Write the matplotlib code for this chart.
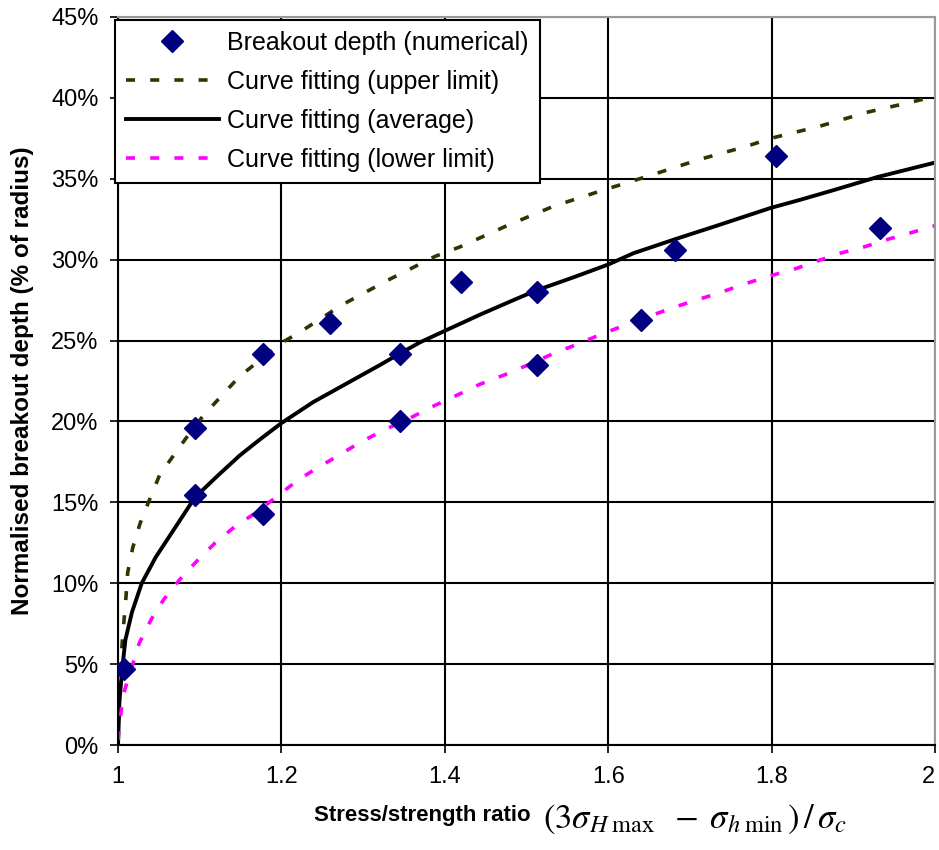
import numpy as np
import matplotlib.pyplot as plt
from matplotlib.ticker import PercentFormatter

plt.rcParams['font.family'] = ['Liberation Sans', 'DejaVu Sans']
plt.rcParams['mathtext.fontset'] = 'stix'

# numerical breakout depth (stress ratio, % of radius)
pts_x = [1.007, 1.094, 1.094, 1.177, 1.177, 1.259, 1.345, 1.345, 1.420,
         1.513, 1.513, 1.640, 1.682, 1.805, 1.933]
pts_y = [4.7, 19.6, 15.45, 24.2, 14.3, 26.1, 24.2, 20.0, 28.6,
         28.0, 23.5, 26.3, 30.6, 36.4, 31.95]

# upper limit curve
up_x = [1.0, 1.0016, 1.0049, 1.0073, 1.0098, 1.0118, 1.018, 1.027, 1.038, 1.051,
        1.068, 1.088, 1.105, 1.127, 1.149, 1.174, 1.198, 1.222, 1.274, 1.329,
        1.388, 1.419, 1.476, 1.533, 1.594, 1.651, 1.712, 1.769, 1.799, 1.859,
        1.916, 1.976, 2.0]
up_y = [0.0, 3.2, 6.2, 7.7, 9.2, 10.65, 12.2, 13.7, 15.1, 16.7,
        17.9, 19.3, 20.4, 21.6, 22.8, 23.8, 24.8, 25.5, 27.2, 28.7,
        30.2, 30.8, 32.1, 33.3, 34.3, 35.2, 36.2, 37.0, 37.5, 38.25,
        39.1, 39.8, 40.1]

# average curve
avg_x = [1.0, 1.0016, 1.0049, 1.009, 1.017, 1.029, 1.046, 1.072, 1.094, 1.121,
         1.149, 1.174, 1.200, 1.239, 1.280, 1.321, 1.345, 1.370, 1.400, 1.443,
         1.484, 1.512, 1.557, 1.600, 1.631, 1.684, 1.733, 1.799, 1.835, 1.876,
         1.929, 2.0]
avg_y = [0.0, 2.6, 4.6, 6.5, 8.2, 10.0, 11.6, 13.6, 15.3, 16.6,
         17.9, 18.9, 19.9, 21.2, 22.35, 23.5, 24.2, 24.9, 25.6, 26.6,
         27.5, 28.1, 28.9, 29.7, 30.4, 31.3, 32.1, 33.2, 33.7, 34.3,
         35.1, 36.0]

# lower limit curve
low_x = [1.0, 1.0028, 1.0069, 1.026, 1.041, 1.056, 1.075, 1.097, 1.119, 1.143,
         1.170, 1.194, 1.221, 1.243, 1.270, 1.296, 1.327, 1.359, 1.384, 1.414,
         1.443, 1.474, 1.502, 1.533, 1.561, 1.592, 1.623, 1.680, 1.708, 1.739,
         1.767, 1.798, 1.827, 1.855, 1.884, 1.914, 1.945, 1.973, 2.0]
low_y = [0.3, 1.75, 3.2, 6.3, 7.8, 9.0, 10.2, 11.4, 12.5, 13.5,
         14.4, 15.35, 16.4, 17.1, 17.9, 18.7, 19.5, 20.25, 20.9, 21.6,
         22.3, 22.9, 23.5, 24.2, 24.75, 25.4, 26.0, 27.05, 27.5, 28.0,
         28.5, 29.0, 29.4, 29.9, 30.4, 30.8, 31.3, 31.7, 32.1]

fig = plt.figure(figsize=(9.39, 8.5), dpi=100)
ax = fig.add_axes([0.1257, 0.1235, 0.87, 0.8565])

ax.plot(pts_x, pts_y, 'D', color='#000080', markersize=11.5, ls='none',
        label='Breakout depth (numerical)', zorder=5)
ax.plot(up_x, up_y, color='#333300', lw=2.6, ls=(0, (2.5, 4.2)),
        label='Curve fitting (upper limit)')
ax.plot(avg_x, avg_y, color='black', lw=2.8, label='Curve fitting (average)')
ax.plot(low_x, low_y, color='#FF00FF', lw=2.6, ls=(0, (2.5, 4.2)),
        label='Curve fitting (lower limit)')

ax.set_xlim(1, 2)
ax.set_ylim(0, 45)
ax.set_xticks(np.arange(1, 2.01, 0.2))
ax.set_xticklabels(['1', '1.2', '1.4', '1.6', '1.8', '2'])
ax.get_xticklabels()[-1].set_ha('right')
ax.set_yticks(np.arange(0, 46, 5))
ax.yaxis.set_major_formatter(PercentFormatter(decimals=0))
ax.grid(True, color='black', lw=1.5)
ax.tick_params(direction='out', length=6, width=1.2, labelsize=17)
ax.tick_params(axis='y', pad=8)
ax.tick_params(axis='x', pad=9)
for s in ['left', 'bottom']:
    ax.spines[s].set_color('black')
    ax.spines[s].set_linewidth(1.5)
for s in ['top', 'right']:
    ax.spines[s].set_color('#999999')
    ax.spines[s].set_linewidth(1.5)

ax.set_ylabel('Normalised breakout depth (% of radius)', fontsize=17.5,
              fontweight='bold')
ax.yaxis.set_label_coords(-0.103, 0.5)
fig.text(0.565, 0.041, 'Stress/strength ratio', fontsize=16, fontweight='bold',
         ha='right', va='center')
fig.text(0.578, 0.036,
         r'$(3\sigma_{H\;\mathrm{max}}\;\;-\;\sigma_{h\;\mathrm{min}}\,)\,/\,\sigma_c$',
         fontsize=25, ha='left', va='center')

leg = ax.legend(loc='upper left', bbox_to_anchor=(-0.004, 0.996), borderaxespad=0,
                fontsize=18, frameon=True, fancybox=False, handlelength=3.7,
                labelspacing=0.6, handletextpad=0.35, borderpad=0.45)
leg.get_frame().set_edgecolor('black')
leg.get_frame().set_linewidth(1.5)
leg.get_frame().set_alpha(1)

fig.savefig('out.png', dpi=100)
